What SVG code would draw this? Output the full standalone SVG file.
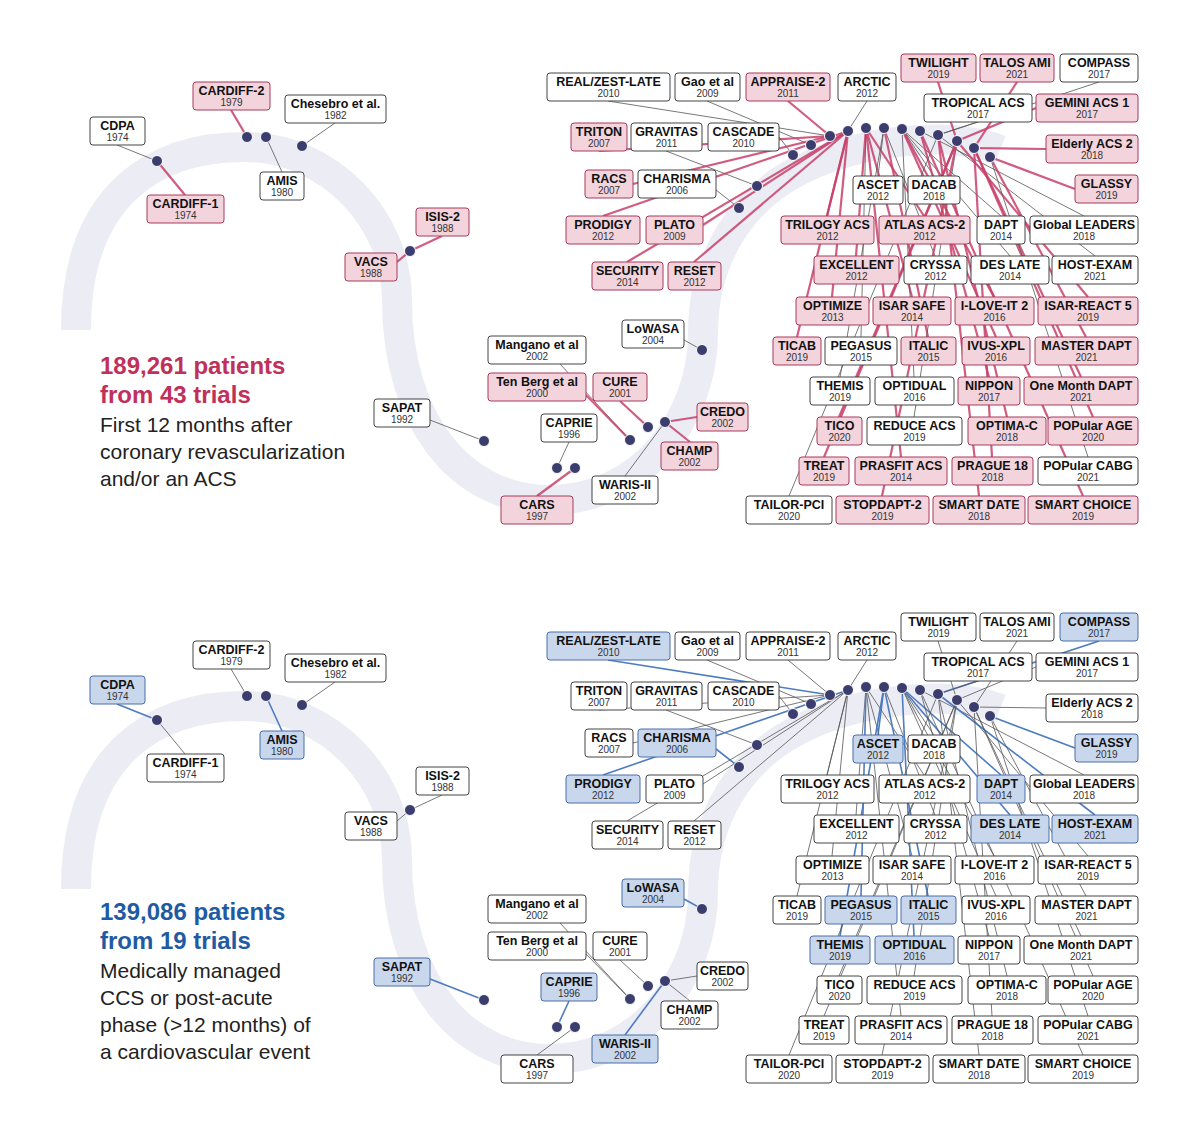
<svg xmlns="http://www.w3.org/2000/svg" width="1200" height="1134" viewBox="0 0 1200 1134">
<style>
rect{stroke-width:1;rx:3}
.w{fill:#fff;stroke:#444}
.r{fill:#f3d3dc;stroke:#a83a5c}
.b{fill:#c9d7ec;stroke:#4a6ea8}
text{font-family:"Liberation Sans",Arial,sans-serif;text-anchor:middle;fill:#111}
.n{font-size:12.5px;font-weight:bold}
.y{font-size:10px;fill:#333}
.band{fill:none;stroke:#ececf4;stroke-width:30}
.lg{stroke:#555;stroke-width:0.8;fill:none}
.lr{stroke:#c8406a;stroke-width:2.2;fill:none;opacity:.85}
.lb{stroke:#4d7cc0;stroke-width:1.6;fill:none}
.dot{fill:#3b3d6e;stroke:#fff;stroke-width:1}
.big{font-size:24px;font-weight:bold;text-anchor:start}
.sub{font-size:21px;text-anchor:start;fill:#222}
</style>
<rect width="1200" height="1134" fill="#fff" style="rx:0;stroke:none"/>
<g id="band1"><path class="band" d="M76 330 C76 190 160 147 244 147 C330 147 397 220 397 300 C397 420 460 500 550 500 C640 500 703 420 703 333 C703 260 740 200 800 170 C860 140 950 130 1000 150"/></g>
<g id="band2" transform="translate(0,559)"><path class="band" d="M76 330 C76 190 160 147 244 147 C330 147 397 220 397 300 C397 420 460 500 550 500 C640 500 703 420 703 333 C703 260 740 200 800 170 C860 140 950 130 1000 150"/></g>

<text class="big" x="100" y="374" style="fill:#c0305a">189,261 patients</text>
<text class="big" x="100" y="403" style="fill:#c0305a">from 43 trials</text>
<text class="sub" x="100" y="432">First 12 months after</text>
<text class="sub" x="100" y="459">coronary revascularization</text>
<text class="sub" x="100" y="486">and/or an ACS</text>

<text class="big" x="100" y="920" style="fill:#1f5ba3">139,086 patients</text>
<text class="big" x="100" y="949" style="fill:#1f5ba3">from 19 trials</text>
<text class="sub" x="100" y="978">Medically managed</text>
<text class="sub" x="100" y="1005">CCS or post-acute</text>
<text class="sub" x="100" y="1032">phase (&gt;12 months) of</text>
<text class="sub" x="100" y="1059">a cardiovascular event</text>

<g id="connectors1">
<path class="lg" d="M117 145L157 161"/><path class="lr" d="M185 195L157 161"/><path class="lr" d="M231 110L247 137"/><path class="lg" d="M282 172L266 137"/><path class="lg" d="M335 123L302 146"/><path class="lr" d="M442 236L410 251"/><path class="lr" d="M397 262L410 251"/><path class="lg" d="M430 420L484 441"/><path class="lg" d="M560 364L630 440"/><path class="lr" d="M586 395L630 440"/><path class="lr" d="M620 401L648 427"/><path class="lg" d="M569 442L557 468"/><path class="lr" d="M537 496L575 468"/><path class="lg" d="M625 476L665 422"/><path class="lr" d="M690 442L665 422"/><path class="lr" d="M697 417L665 422"/><path class="lg" d="M684 340L702 350"/>
<path class="lg" d="M608 101L830 136"/><path class="lg" d="M707 101L811 145"/><path class="lr" d="M788 101L830 136"/><path class="lg" d="M867 101L848 131"/><path class="lr" d="M938 82L957 141"/><path class="lr" d="M1017 82L974 148"/><path class="lg" d="M1099 82L938 135"/><path class="lg" d="M978 122L938 135"/><path class="lr" d="M1036 108L957 141"/><path class="lr" d="M1046 149L974 148"/><path class="lr" d="M1075 189L990 157"/><path class="lr" d="M599 151L830 136"/><path class="lg" d="M666 151L757 186"/><path class="lg" d="M779 137L793 155"/><path class="lr" d="M633 184L830 136"/><path class="lg" d="M716 190L739 208"/><path class="lg" d="M878 176L884 128"/><path class="lg" d="M934 176L902 129"/><path class="lr" d="M603 216L848 131"/><path class="lr" d="M703 225L848 131"/><path class="lr" d="M827 216L848 131"/><path class="lr" d="M924 216L866 128"/><path class="lg" d="M1001 216L902 129"/><path class="lg" d="M1084 216L920 131"/><path class="lr" d="M627 262L848 131"/><path class="lr" d="M694 262L848 131"/><path class="lr" d="M856 256L866 128"/><path class="lg" d="M935 256L884 128"/><path class="lg" d="M1010 256L902 129"/><path class="lg" d="M1095 256L938 135"/><path class="lr" d="M832 297L848 131"/><path class="lr" d="M912 297L866 128"/><path class="lr" d="M994 297L902 129"/><path class="lr" d="M1088 297L957 141"/><path class="lr" d="M797 337L848 131"/><path class="lg" d="M861 337L866 128"/><path class="lr" d="M928 337L884 128"/><path class="lr" d="M996 337L902 129"/><path class="lr" d="M1086 337L990 157"/><path class="lg" d="M840 377L884 128"/><path class="lg" d="M914 377L902 129"/><path class="lr" d="M989 377L920 131"/><path class="lr" d="M1081 377L974 148"/><path class="lr" d="M839 417L957 141"/><path class="lg" d="M914 417L957 141"/><path class="lr" d="M1007 417L938 135"/><path class="lr" d="M1093 417L974 148"/><path class="lr" d="M824 457L957 141"/><path class="lr" d="M901 457L866 128"/><path class="lr" d="M992 457L974 148"/><path class="lg" d="M1088 457L990 157"/><path class="lg" d="M789 496L938 135"/><path class="lr" d="M882 496L957 141"/><path class="lr" d="M979 496L938 135"/><path class="lr" d="M1083 496L920 131"/>
</g>
<g id="connectors2" transform="translate(0,559)">
<path class="lb" d="M117 145L157 161"/><path class="lg" d="M185 195L157 161"/><path class="lg" d="M231 110L247 137"/><path class="lb" d="M282 172L266 137"/><path class="lg" d="M335 123L302 146"/><path class="lg" d="M442 236L410 251"/><path class="lg" d="M397 262L410 251"/><path class="lb" d="M430 420L484 441"/><path class="lg" d="M560 364L630 440"/><path class="lg" d="M586 395L630 440"/><path class="lg" d="M620 401L648 427"/><path class="lb" d="M569 442L557 468"/><path class="lg" d="M537 496L575 468"/><path class="lb" d="M625 476L665 422"/><path class="lg" d="M690 442L665 422"/><path class="lg" d="M697 417L665 422"/><path class="lb" d="M684 340L702 350"/>
<path class="lb" d="M608 101L830 136"/><path class="lg" d="M707 101L811 145"/><path class="lg" d="M788 101L830 136"/><path class="lg" d="M867 101L848 131"/><path class="lg" d="M938 82L957 141"/><path class="lg" d="M1017 82L974 148"/><path class="lb" d="M1099 82L938 135"/><path class="lg" d="M978 122L938 135"/><path class="lg" d="M1036 108L957 141"/><path class="lg" d="M1046 149L974 148"/><path class="lb" d="M1075 189L990 157"/><path class="lg" d="M599 151L830 136"/><path class="lg" d="M666 151L757 186"/><path class="lg" d="M779 137L793 155"/><path class="lg" d="M633 184L830 136"/><path class="lb" d="M716 190L739 208"/><path class="lb" d="M878 176L884 128"/><path class="lg" d="M934 176L902 129"/><path class="lb" d="M603 216L848 131"/><path class="lg" d="M703 225L848 131"/><path class="lg" d="M827 216L848 131"/><path class="lg" d="M924 216L866 128"/><path class="lb" d="M1001 216L902 129"/><path class="lg" d="M1084 216L920 131"/><path class="lg" d="M627 262L848 131"/><path class="lg" d="M694 262L848 131"/><path class="lg" d="M856 256L866 128"/><path class="lg" d="M935 256L884 128"/><path class="lb" d="M1010 256L902 129"/><path class="lb" d="M1095 256L938 135"/><path class="lg" d="M832 297L848 131"/><path class="lg" d="M912 297L866 128"/><path class="lg" d="M994 297L902 129"/><path class="lg" d="M1088 297L957 141"/><path class="lg" d="M797 337L848 131"/><path class="lb" d="M861 337L866 128"/><path class="lb" d="M928 337L884 128"/><path class="lg" d="M996 337L902 129"/><path class="lg" d="M1086 337L990 157"/><path class="lb" d="M840 377L884 128"/><path class="lb" d="M914 377L902 129"/><path class="lg" d="M989 377L920 131"/><path class="lg" d="M1081 377L974 148"/><path class="lg" d="M839 417L957 141"/><path class="lg" d="M914 417L957 141"/><path class="lg" d="M1007 417L938 135"/><path class="lg" d="M1093 417L974 148"/><path class="lg" d="M824 457L957 141"/><path class="lg" d="M901 457L866 128"/><path class="lg" d="M992 457L974 148"/><path class="lg" d="M1088 457L990 157"/><path class="lg" d="M789 496L938 135"/><path class="lg" d="M882 496L957 141"/><path class="lg" d="M979 496L938 135"/><path class="lg" d="M1083 496L920 131"/>
</g>

<g id="dots1">
<circle class="dot" cx="157" cy="161" r="5.5"/><circle class="dot" cx="247" cy="137" r="5.5"/><circle class="dot" cx="266" cy="137" r="5.5"/><circle class="dot" cx="302" cy="146" r="5.5"/><circle class="dot" cx="410" cy="251" r="5.5"/><circle class="dot" cx="484" cy="441" r="5.5"/><circle class="dot" cx="557" cy="468" r="5.5"/><circle class="dot" cx="575" cy="468" r="5.5"/><circle class="dot" cx="630" cy="440" r="5.5"/><circle class="dot" cx="648" cy="427" r="5.5"/><circle class="dot" cx="665" cy="422" r="5.5"/><circle class="dot" cx="702" cy="350" r="5.5"/>
<circle class="dot" cx="739" cy="208" r="5.5"/><circle class="dot" cx="757" cy="186" r="5.5"/><circle class="dot" cx="793" cy="155" r="5.5"/><circle class="dot" cx="811" cy="145" r="5.5"/><circle class="dot" cx="830" cy="136" r="5.5"/><circle class="dot" cx="848" cy="131" r="5.5"/><circle class="dot" cx="866" cy="128" r="5.5"/><circle class="dot" cx="884" cy="128" r="5.5"/><circle class="dot" cx="902" cy="129" r="5.5"/><circle class="dot" cx="920" cy="131" r="5.5"/><circle class="dot" cx="938" cy="135" r="5.5"/><circle class="dot" cx="957" cy="141" r="5.5"/><circle class="dot" cx="974" cy="148" r="5.5"/><circle class="dot" cx="990" cy="157" r="5.5"/>
</g>
<use href="#dots1" transform="translate(0,559)"/>

<g id="nodes1">
<g id="cdpa"><rect class="w" x="90" y="117" width="55" height="28"/><text class="n" x="117.5" y="130">CDPA</text><text class="y" x="117.5" y="141">1974</text></g>
<g id="cardiff1"><rect class="r" x="147" y="195" width="77" height="28"/><text class="n" x="185.5" y="208">CARDIFF-1</text><text class="y" x="185.5" y="219">1974</text></g>
<g id="cardiff2"><rect class="r" x="193" y="82" width="77" height="28"/><text class="n" x="231.5" y="95">CARDIFF-2</text><text class="y" x="231.5" y="106">1979</text></g>
<g id="amis"><rect class="w" x="260" y="172" width="44" height="28"/><text class="n" x="282" y="185">AMIS</text><text class="y" x="282" y="196">1980</text></g>
<g id="chesebro"><rect class="w" x="285" y="95" width="101" height="28"/><text class="n" x="335.5" y="108">Chesebro et al.</text><text class="y" x="335.5" y="119">1982</text></g>
<g id="isis2"><rect class="r" x="416" y="208" width="53" height="28"/><text class="n" x="442.5" y="221">ISIS-2</text><text class="y" x="442.5" y="232">1988</text></g>
<g id="vacs"><rect class="r" x="345" y="253" width="52" height="28"/><text class="n" x="371" y="266">VACS</text><text class="y" x="371" y="277">1988</text></g>
<g id="sapat"><rect class="w" x="374" y="399" width="56" height="28"/><text class="n" x="402" y="412">SAPAT</text><text class="y" x="402" y="423">1992</text></g>
<g id="mangano"><rect class="w" x="488" y="336" width="98" height="28"/><text class="n" x="537" y="349">Mangano et al</text><text class="y" x="537" y="360">2002</text></g>
<g id="tenberg"><rect class="r" x="488" y="373" width="98" height="28"/><text class="n" x="537" y="386">Ten Berg et al</text><text class="y" x="537" y="397">2000</text></g>
<g id="cure"><rect class="r" x="593" y="373" width="54" height="28"/><text class="n" x="620" y="386">CURE</text><text class="y" x="620" y="397">2001</text></g>
<g id="caprie"><rect class="w" x="541" y="414" width="56" height="28"/><text class="n" x="569" y="427">CAPRIE</text><text class="y" x="569" y="438">1996</text></g>
<g id="credo"><rect class="r" x="697" y="403" width="51" height="28"/><text class="n" x="722.5" y="416">CREDO</text><text class="y" x="722.5" y="427">2002</text></g>
<g id="champ"><rect class="r" x="661" y="442" width="57" height="28"/><text class="n" x="689.5" y="455">CHAMP</text><text class="y" x="689.5" y="466">2002</text></g>
<g id="warisii"><rect class="w" x="592" y="476" width="66" height="28"/><text class="n" x="625" y="489">WARIS-II</text><text class="y" x="625" y="500">2002</text></g>
<g id="cars"><rect class="r" x="501" y="496" width="72" height="28"/><text class="n" x="537" y="509">CARS</text><text class="y" x="537" y="520">1997</text></g>
<g id="lowasa"><rect class="w" x="622" y="320" width="62" height="28"/><text class="n" x="653" y="333">LoWASA</text><text class="y" x="653" y="344">2004</text></g>
<g id="realzest"><rect class="w" x="547" y="73" width="123" height="28"/><text class="n" x="608.5" y="86">REAL/ZEST-LATE</text><text class="y" x="608.5" y="97">2010</text></g>
<g id="gao"><rect class="w" x="675" y="73" width="65" height="28"/><text class="n" x="707.5" y="86">Gao et al</text><text class="y" x="707.5" y="97">2009</text></g>
<g id="appraise2"><rect class="r" x="746" y="73" width="84" height="28"/><text class="n" x="788" y="86">APPRAISE-2</text><text class="y" x="788" y="97">2011</text></g>
<g id="arctic"><rect class="w" x="838" y="73" width="58" height="28"/><text class="n" x="867" y="86">ARCTIC</text><text class="y" x="867" y="97">2012</text></g>
<g id="twilight"><rect class="r" x="901" y="54" width="75" height="28"/><text class="n" x="938.5" y="67">TWILIGHT</text><text class="y" x="938.5" y="78">2019</text></g>
<g id="talos"><rect class="r" x="980" y="54" width="74" height="28"/><text class="n" x="1017" y="67">TALOS AMI</text><text class="y" x="1017" y="78">2021</text></g>
<g id="compass"><rect class="w" x="1060" y="54" width="78" height="28"/><text class="n" x="1099" y="67">COMPASS</text><text class="y" x="1099" y="78">2017</text></g>
<g id="tropical"><rect class="w" x="924" y="94" width="108" height="28"/><text class="n" x="978" y="107">TROPICAL ACS</text><text class="y" x="978" y="118">2017</text></g>
<g id="gemini"><rect class="r" x="1036" y="94" width="102" height="28"/><text class="n" x="1087" y="107">GEMINI ACS 1</text><text class="y" x="1087" y="118">2017</text></g>
<g id="elderly"><rect class="r" x="1046" y="135" width="92" height="28"/><text class="n" x="1092" y="148">Elderly ACS 2</text><text class="y" x="1092" y="159">2018</text></g>
<g id="glassy"><rect class="r" x="1075" y="175" width="63" height="28"/><text class="n" x="1106.5" y="188">GLASSY</text><text class="y" x="1106.5" y="199">2019</text></g>
<g id="triton"><rect class="r" x="571" y="123" width="56" height="28"/><text class="n" x="599" y="136">TRITON</text><text class="y" x="599" y="147">2007</text></g>
<g id="gravitas"><rect class="w" x="631" y="123" width="71" height="28"/><text class="n" x="666.5" y="136">GRAVITAS</text><text class="y" x="666.5" y="147">2011</text></g>
<g id="cascade"><rect class="w" x="708" y="123" width="71" height="28"/><text class="n" x="743.5" y="136">CASCADE</text><text class="y" x="743.5" y="147">2010</text></g>
<g id="racs"><rect class="r" x="585" y="170" width="48" height="28"/><text class="n" x="609" y="183">RACS</text><text class="y" x="609" y="194">2007</text></g>
<g id="charisma"><rect class="w" x="638" y="170" width="78" height="28"/><text class="n" x="677" y="183">CHARISMA</text><text class="y" x="677" y="194">2006</text></g>
<g id="ascet"><rect class="w" x="853" y="176" width="50" height="28"/><text class="n" x="878" y="189">ASCET</text><text class="y" x="878" y="200">2012</text></g>
<g id="dacab"><rect class="w" x="908" y="176" width="52" height="28"/><text class="n" x="934" y="189">DACAB</text><text class="y" x="934" y="200">2018</text></g>
<g id="prodigy"><rect class="r" x="566" y="216" width="74" height="28"/><text class="n" x="603" y="229">PRODIGY</text><text class="y" x="603" y="240">2012</text></g>
<g id="plato"><rect class="r" x="646" y="216" width="57" height="28"/><text class="n" x="674.5" y="229">PLATO</text><text class="y" x="674.5" y="240">2009</text></g>
<g id="trilogy"><rect class="r" x="781" y="216" width="93" height="28"/><text class="n" x="827.5" y="229">TRILOGY ACS</text><text class="y" x="827.5" y="240">2012</text></g>
<g id="atlas"><rect class="r" x="879" y="216" width="91" height="28"/><text class="n" x="924.5" y="229">ATLAS ACS-2</text><text class="y" x="924.5" y="240">2012</text></g>
<g id="dapt"><rect class="w" x="977" y="216" width="48" height="28"/><text class="n" x="1001" y="229">DAPT</text><text class="y" x="1001" y="240">2014</text></g>
<g id="globalleaders"><rect class="w" x="1030" y="216" width="108" height="28"/><text class="n" x="1084" y="229">Global LEADERS</text><text class="y" x="1084" y="240">2018</text></g>
<g id="security"><rect class="r" x="592" y="262" width="71" height="28"/><text class="n" x="627.5" y="275">SECURITY</text><text class="y" x="627.5" y="286">2014</text></g>
<g id="reset"><rect class="r" x="668" y="262" width="53" height="28"/><text class="n" x="694.5" y="275">RESET</text><text class="y" x="694.5" y="286">2012</text></g>
<g id="excellent"><rect class="r" x="814" y="256" width="85" height="28"/><text class="n" x="856.5" y="269">EXCELLENT</text><text class="y" x="856.5" y="280">2012</text></g>
<g id="cryssa"><rect class="w" x="904" y="256" width="63" height="28"/><text class="n" x="935.5" y="269">CRYSSA</text><text class="y" x="935.5" y="280">2012</text></g>
<g id="deslate"><rect class="w" x="971" y="256" width="78" height="28"/><text class="n" x="1010" y="269">DES LATE</text><text class="y" x="1010" y="280">2014</text></g>
<g id="hostexam"><rect class="w" x="1052" y="256" width="86" height="28"/><text class="n" x="1095" y="269">HOST-EXAM</text><text class="y" x="1095" y="280">2021</text></g>
<g id="optimize"><rect class="r" x="796" y="297" width="73" height="28"/><text class="n" x="832.5" y="310">OPTIMIZE</text><text class="y" x="832.5" y="321">2013</text></g>
<g id="isarsafe"><rect class="r" x="873" y="297" width="78" height="28"/><text class="n" x="912" y="310">ISAR SAFE</text><text class="y" x="912" y="321">2014</text></g>
<g id="iloveit2"><rect class="r" x="955" y="297" width="79" height="28"/><text class="n" x="994.5" y="310">I-LOVE-IT 2</text><text class="y" x="994.5" y="321">2016</text></g>
<g id="isarreact5"><rect class="r" x="1038" y="297" width="100" height="28"/><text class="n" x="1088" y="310">ISAR-REACT 5</text><text class="y" x="1088" y="321">2019</text></g>
<g id="ticab"><rect class="r" x="773" y="337" width="48" height="28"/><text class="n" x="797" y="350">TICAB</text><text class="y" x="797" y="361">2019</text></g>
<g id="pegasus"><rect class="w" x="825" y="337" width="72" height="28"/><text class="n" x="861" y="350">PEGASUS</text><text class="y" x="861" y="361">2015</text></g>
<g id="italic"><rect class="r" x="901" y="337" width="55" height="28"/><text class="n" x="928.5" y="350">ITALIC</text><text class="y" x="928.5" y="361">2015</text></g>
<g id="ivusxpl"><rect class="r" x="962" y="337" width="68" height="28"/><text class="n" x="996" y="350">IVUS-XPL</text><text class="y" x="996" y="361">2016</text></g>
<g id="masterdapt"><rect class="r" x="1035" y="337" width="103" height="28"/><text class="n" x="1086.5" y="350">MASTER DAPT</text><text class="y" x="1086.5" y="361">2021</text></g>
<g id="themis"><rect class="w" x="810" y="377" width="60" height="28"/><text class="n" x="840" y="390">THEMIS</text><text class="y" x="840" y="401">2019</text></g>
<g id="optidual"><rect class="w" x="875" y="377" width="79" height="28"/><text class="n" x="914.5" y="390">OPTIDUAL</text><text class="y" x="914.5" y="401">2016</text></g>
<g id="nippon"><rect class="r" x="958" y="377" width="62" height="28"/><text class="n" x="989" y="390">NIPPON</text><text class="y" x="989" y="401">2017</text></g>
<g id="onemonth"><rect class="r" x="1024" y="377" width="114" height="28"/><text class="n" x="1081" y="390">One Month DAPT</text><text class="y" x="1081" y="401">2021</text></g>
<g id="tico"><rect class="r" x="817" y="417" width="45" height="28"/><text class="n" x="839.5" y="430">TICO</text><text class="y" x="839.5" y="441">2020</text></g>
<g id="reduceacs"><rect class="w" x="867" y="417" width="95" height="28"/><text class="n" x="914.5" y="430">REDUCE ACS</text><text class="y" x="914.5" y="441">2019</text></g>
<g id="optimac"><rect class="r" x="968" y="417" width="78" height="28"/><text class="n" x="1007" y="430">OPTIMA-C</text><text class="y" x="1007" y="441">2018</text></g>
<g id="popularage"><rect class="r" x="1048" y="417" width="90" height="28"/><text class="n" x="1093" y="430">POPular AGE</text><text class="y" x="1093" y="441">2020</text></g>
<g id="treat"><rect class="r" x="799" y="457" width="50" height="28"/><text class="n" x="824" y="470">TREAT</text><text class="y" x="824" y="481">2019</text></g>
<g id="prasfit"><rect class="r" x="855" y="457" width="92" height="28"/><text class="n" x="901" y="470">PRASFIT ACS</text><text class="y" x="901" y="481">2014</text></g>
<g id="prague18"><rect class="r" x="952" y="457" width="81" height="28"/><text class="n" x="992.5" y="470">PRAGUE 18</text><text class="y" x="992.5" y="481">2018</text></g>
<g id="popularcabg"><rect class="w" x="1038" y="457" width="100" height="28"/><text class="n" x="1088" y="470">POPular CABG</text><text class="y" x="1088" y="481">2021</text></g>
<g id="tailorpci"><rect class="w" x="746" y="496" width="86" height="28"/><text class="n" x="789" y="509">TAILOR-PCI</text><text class="y" x="789" y="520">2020</text></g>
<g id="stopdapt2"><rect class="r" x="836" y="496" width="93" height="28"/><text class="n" x="882.5" y="509">STOPDAPT-2</text><text class="y" x="882.5" y="520">2019</text></g>
<g id="smartdate"><rect class="r" x="933" y="496" width="92" height="28"/><text class="n" x="979" y="509">SMART DATE</text><text class="y" x="979" y="520">2018</text></g>
<g id="smartchoice"><rect class="r" x="1028" y="496" width="110" height="28"/><text class="n" x="1083" y="509">SMART CHOICE</text><text class="y" x="1083" y="520">2019</text></g>
</g>

<g id="nodes2" transform="translate(0,559)">
<g id="cdpa-2"><rect class="b" x="90" y="117" width="55" height="28"/><text class="n" x="117.5" y="130">CDPA</text><text class="y" x="117.5" y="141">1974</text></g>
<g id="cardiff1-2"><rect class="w" x="147" y="195" width="77" height="28"/><text class="n" x="185.5" y="208">CARDIFF-1</text><text class="y" x="185.5" y="219">1974</text></g>
<g id="cardiff2-2"><rect class="w" x="193" y="82" width="77" height="28"/><text class="n" x="231.5" y="95">CARDIFF-2</text><text class="y" x="231.5" y="106">1979</text></g>
<g id="amis-2"><rect class="b" x="260" y="172" width="44" height="28"/><text class="n" x="282" y="185">AMIS</text><text class="y" x="282" y="196">1980</text></g>
<g id="chesebro-2"><rect class="w" x="285" y="95" width="101" height="28"/><text class="n" x="335.5" y="108">Chesebro et al.</text><text class="y" x="335.5" y="119">1982</text></g>
<g id="isis2-2"><rect class="w" x="416" y="208" width="53" height="28"/><text class="n" x="442.5" y="221">ISIS-2</text><text class="y" x="442.5" y="232">1988</text></g>
<g id="vacs-2"><rect class="w" x="345" y="253" width="52" height="28"/><text class="n" x="371" y="266">VACS</text><text class="y" x="371" y="277">1988</text></g>
<g id="sapat-2"><rect class="b" x="374" y="399" width="56" height="28"/><text class="n" x="402" y="412">SAPAT</text><text class="y" x="402" y="423">1992</text></g>
<g id="mangano-2"><rect class="w" x="488" y="336" width="98" height="28"/><text class="n" x="537" y="349">Mangano et al</text><text class="y" x="537" y="360">2002</text></g>
<g id="tenberg-2"><rect class="w" x="488" y="373" width="98" height="28"/><text class="n" x="537" y="386">Ten Berg et al</text><text class="y" x="537" y="397">2000</text></g>
<g id="cure-2"><rect class="w" x="593" y="373" width="54" height="28"/><text class="n" x="620" y="386">CURE</text><text class="y" x="620" y="397">2001</text></g>
<g id="caprie-2"><rect class="b" x="541" y="414" width="56" height="28"/><text class="n" x="569" y="427">CAPRIE</text><text class="y" x="569" y="438">1996</text></g>
<g id="credo-2"><rect class="w" x="697" y="403" width="51" height="28"/><text class="n" x="722.5" y="416">CREDO</text><text class="y" x="722.5" y="427">2002</text></g>
<g id="champ-2"><rect class="w" x="661" y="442" width="57" height="28"/><text class="n" x="689.5" y="455">CHAMP</text><text class="y" x="689.5" y="466">2002</text></g>
<g id="warisii-2"><rect class="b" x="592" y="476" width="66" height="28"/><text class="n" x="625" y="489">WARIS-II</text><text class="y" x="625" y="500">2002</text></g>
<g id="cars-2"><rect class="w" x="501" y="496" width="72" height="28"/><text class="n" x="537" y="509">CARS</text><text class="y" x="537" y="520">1997</text></g>
<g id="lowasa-2"><rect class="b" x="622" y="320" width="62" height="28"/><text class="n" x="653" y="333">LoWASA</text><text class="y" x="653" y="344">2004</text></g>
<g id="realzest-2"><rect class="b" x="547" y="73" width="123" height="28"/><text class="n" x="608.5" y="86">REAL/ZEST-LATE</text><text class="y" x="608.5" y="97">2010</text></g>
<g id="gao-2"><rect class="w" x="675" y="73" width="65" height="28"/><text class="n" x="707.5" y="86">Gao et al</text><text class="y" x="707.5" y="97">2009</text></g>
<g id="appraise2-2"><rect class="w" x="746" y="73" width="84" height="28"/><text class="n" x="788" y="86">APPRAISE-2</text><text class="y" x="788" y="97">2011</text></g>
<g id="arctic-2"><rect class="w" x="838" y="73" width="58" height="28"/><text class="n" x="867" y="86">ARCTIC</text><text class="y" x="867" y="97">2012</text></g>
<g id="twilight-2"><rect class="w" x="901" y="54" width="75" height="28"/><text class="n" x="938.5" y="67">TWILIGHT</text><text class="y" x="938.5" y="78">2019</text></g>
<g id="talos-2"><rect class="w" x="980" y="54" width="74" height="28"/><text class="n" x="1017" y="67">TALOS AMI</text><text class="y" x="1017" y="78">2021</text></g>
<g id="compass-2"><rect class="b" x="1060" y="54" width="78" height="28"/><text class="n" x="1099" y="67">COMPASS</text><text class="y" x="1099" y="78">2017</text></g>
<g id="tropical-2"><rect class="w" x="924" y="94" width="108" height="28"/><text class="n" x="978" y="107">TROPICAL ACS</text><text class="y" x="978" y="118">2017</text></g>
<g id="gemini-2"><rect class="w" x="1036" y="94" width="102" height="28"/><text class="n" x="1087" y="107">GEMINI ACS 1</text><text class="y" x="1087" y="118">2017</text></g>
<g id="elderly-2"><rect class="w" x="1046" y="135" width="92" height="28"/><text class="n" x="1092" y="148">Elderly ACS 2</text><text class="y" x="1092" y="159">2018</text></g>
<g id="glassy-2"><rect class="b" x="1075" y="175" width="63" height="28"/><text class="n" x="1106.5" y="188">GLASSY</text><text class="y" x="1106.5" y="199">2019</text></g>
<g id="triton-2"><rect class="w" x="571" y="123" width="56" height="28"/><text class="n" x="599" y="136">TRITON</text><text class="y" x="599" y="147">2007</text></g>
<g id="gravitas-2"><rect class="w" x="631" y="123" width="71" height="28"/><text class="n" x="666.5" y="136">GRAVITAS</text><text class="y" x="666.5" y="147">2011</text></g>
<g id="cascade-2"><rect class="w" x="708" y="123" width="71" height="28"/><text class="n" x="743.5" y="136">CASCADE</text><text class="y" x="743.5" y="147">2010</text></g>
<g id="racs-2"><rect class="w" x="585" y="170" width="48" height="28"/><text class="n" x="609" y="183">RACS</text><text class="y" x="609" y="194">2007</text></g>
<g id="charisma-2"><rect class="b" x="638" y="170" width="78" height="28"/><text class="n" x="677" y="183">CHARISMA</text><text class="y" x="677" y="194">2006</text></g>
<g id="ascet-2"><rect class="b" x="853" y="176" width="50" height="28"/><text class="n" x="878" y="189">ASCET</text><text class="y" x="878" y="200">2012</text></g>
<g id="dacab-2"><rect class="w" x="908" y="176" width="52" height="28"/><text class="n" x="934" y="189">DACAB</text><text class="y" x="934" y="200">2018</text></g>
<g id="prodigy-2"><rect class="b" x="566" y="216" width="74" height="28"/><text class="n" x="603" y="229">PRODIGY</text><text class="y" x="603" y="240">2012</text></g>
<g id="plato-2"><rect class="w" x="646" y="216" width="57" height="28"/><text class="n" x="674.5" y="229">PLATO</text><text class="y" x="674.5" y="240">2009</text></g>
<g id="trilogy-2"><rect class="w" x="781" y="216" width="93" height="28"/><text class="n" x="827.5" y="229">TRILOGY ACS</text><text class="y" x="827.5" y="240">2012</text></g>
<g id="atlas-2"><rect class="w" x="879" y="216" width="91" height="28"/><text class="n" x="924.5" y="229">ATLAS ACS-2</text><text class="y" x="924.5" y="240">2012</text></g>
<g id="dapt-2"><rect class="b" x="977" y="216" width="48" height="28"/><text class="n" x="1001" y="229">DAPT</text><text class="y" x="1001" y="240">2014</text></g>
<g id="globalleaders-2"><rect class="w" x="1030" y="216" width="108" height="28"/><text class="n" x="1084" y="229">Global LEADERS</text><text class="y" x="1084" y="240">2018</text></g>
<g id="security-2"><rect class="w" x="592" y="262" width="71" height="28"/><text class="n" x="627.5" y="275">SECURITY</text><text class="y" x="627.5" y="286">2014</text></g>
<g id="reset-2"><rect class="w" x="668" y="262" width="53" height="28"/><text class="n" x="694.5" y="275">RESET</text><text class="y" x="694.5" y="286">2012</text></g>
<g id="excellent-2"><rect class="w" x="814" y="256" width="85" height="28"/><text class="n" x="856.5" y="269">EXCELLENT</text><text class="y" x="856.5" y="280">2012</text></g>
<g id="cryssa-2"><rect class="w" x="904" y="256" width="63" height="28"/><text class="n" x="935.5" y="269">CRYSSA</text><text class="y" x="935.5" y="280">2012</text></g>
<g id="deslate-2"><rect class="b" x="971" y="256" width="78" height="28"/><text class="n" x="1010" y="269">DES LATE</text><text class="y" x="1010" y="280">2014</text></g>
<g id="hostexam-2"><rect class="b" x="1052" y="256" width="86" height="28"/><text class="n" x="1095" y="269">HOST-EXAM</text><text class="y" x="1095" y="280">2021</text></g>
<g id="optimize-2"><rect class="w" x="796" y="297" width="73" height="28"/><text class="n" x="832.5" y="310">OPTIMIZE</text><text class="y" x="832.5" y="321">2013</text></g>
<g id="isarsafe-2"><rect class="w" x="873" y="297" width="78" height="28"/><text class="n" x="912" y="310">ISAR SAFE</text><text class="y" x="912" y="321">2014</text></g>
<g id="iloveit2-2"><rect class="w" x="955" y="297" width="79" height="28"/><text class="n" x="994.5" y="310">I-LOVE-IT 2</text><text class="y" x="994.5" y="321">2016</text></g>
<g id="isarreact5-2"><rect class="w" x="1038" y="297" width="100" height="28"/><text class="n" x="1088" y="310">ISAR-REACT 5</text><text class="y" x="1088" y="321">2019</text></g>
<g id="ticab-2"><rect class="w" x="773" y="337" width="48" height="28"/><text class="n" x="797" y="350">TICAB</text><text class="y" x="797" y="361">2019</text></g>
<g id="pegasus-2"><rect class="b" x="825" y="337" width="72" height="28"/><text class="n" x="861" y="350">PEGASUS</text><text class="y" x="861" y="361">2015</text></g>
<g id="italic-2"><rect class="b" x="901" y="337" width="55" height="28"/><text class="n" x="928.5" y="350">ITALIC</text><text class="y" x="928.5" y="361">2015</text></g>
<g id="ivusxpl-2"><rect class="w" x="962" y="337" width="68" height="28"/><text class="n" x="996" y="350">IVUS-XPL</text><text class="y" x="996" y="361">2016</text></g>
<g id="masterdapt-2"><rect class="w" x="1035" y="337" width="103" height="28"/><text class="n" x="1086.5" y="350">MASTER DAPT</text><text class="y" x="1086.5" y="361">2021</text></g>
<g id="themis-2"><rect class="b" x="810" y="377" width="60" height="28"/><text class="n" x="840" y="390">THEMIS</text><text class="y" x="840" y="401">2019</text></g>
<g id="optidual-2"><rect class="b" x="875" y="377" width="79" height="28"/><text class="n" x="914.5" y="390">OPTIDUAL</text><text class="y" x="914.5" y="401">2016</text></g>
<g id="nippon-2"><rect class="w" x="958" y="377" width="62" height="28"/><text class="n" x="989" y="390">NIPPON</text><text class="y" x="989" y="401">2017</text></g>
<g id="onemonth-2"><rect class="w" x="1024" y="377" width="114" height="28"/><text class="n" x="1081" y="390">One Month DAPT</text><text class="y" x="1081" y="401">2021</text></g>
<g id="tico-2"><rect class="w" x="817" y="417" width="45" height="28"/><text class="n" x="839.5" y="430">TICO</text><text class="y" x="839.5" y="441">2020</text></g>
<g id="reduceacs-2"><rect class="w" x="867" y="417" width="95" height="28"/><text class="n" x="914.5" y="430">REDUCE ACS</text><text class="y" x="914.5" y="441">2019</text></g>
<g id="optimac-2"><rect class="w" x="968" y="417" width="78" height="28"/><text class="n" x="1007" y="430">OPTIMA-C</text><text class="y" x="1007" y="441">2018</text></g>
<g id="popularage-2"><rect class="w" x="1048" y="417" width="90" height="28"/><text class="n" x="1093" y="430">POPular AGE</text><text class="y" x="1093" y="441">2020</text></g>
<g id="treat-2"><rect class="w" x="799" y="457" width="50" height="28"/><text class="n" x="824" y="470">TREAT</text><text class="y" x="824" y="481">2019</text></g>
<g id="prasfit-2"><rect class="w" x="855" y="457" width="92" height="28"/><text class="n" x="901" y="470">PRASFIT ACS</text><text class="y" x="901" y="481">2014</text></g>
<g id="prague18-2"><rect class="w" x="952" y="457" width="81" height="28"/><text class="n" x="992.5" y="470">PRAGUE 18</text><text class="y" x="992.5" y="481">2018</text></g>
<g id="popularcabg-2"><rect class="w" x="1038" y="457" width="100" height="28"/><text class="n" x="1088" y="470">POPular CABG</text><text class="y" x="1088" y="481">2021</text></g>
<g id="tailorpci-2"><rect class="w" x="746" y="496" width="86" height="28"/><text class="n" x="789" y="509">TAILOR-PCI</text><text class="y" x="789" y="520">2020</text></g>
<g id="stopdapt2-2"><rect class="w" x="836" y="496" width="93" height="28"/><text class="n" x="882.5" y="509">STOPDAPT-2</text><text class="y" x="882.5" y="520">2019</text></g>
<g id="smartdate-2"><rect class="w" x="933" y="496" width="92" height="28"/><text class="n" x="979" y="509">SMART DATE</text><text class="y" x="979" y="520">2018</text></g>
<g id="smartchoice-2"><rect class="w" x="1028" y="496" width="110" height="28"/><text class="n" x="1083" y="509">SMART CHOICE</text><text class="y" x="1083" y="520">2019</text></g>
</g>
</svg>
